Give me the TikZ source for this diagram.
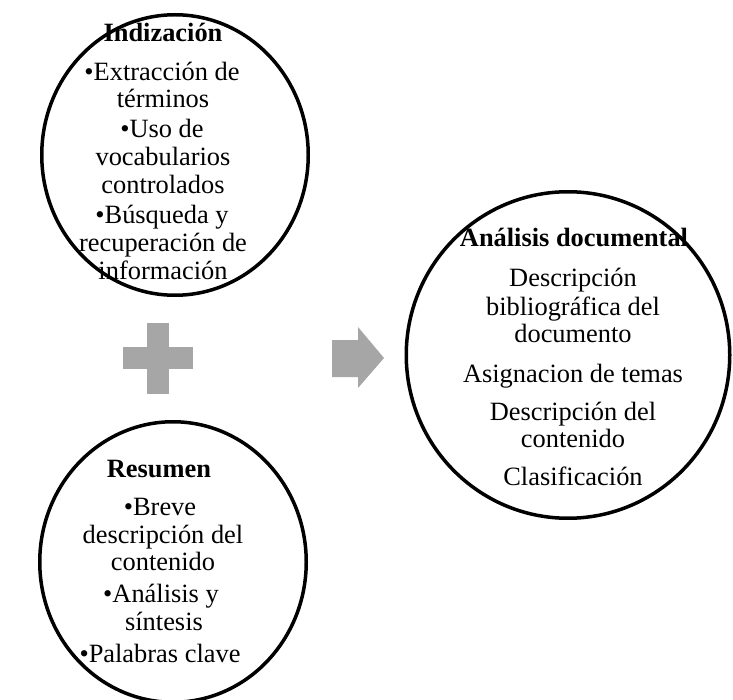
\documentclass[tikz,border=0pt]{standalone}
\usepackage{fontspec}
\setmainfont{Liberation Serif}
\usetikzlibrary{shapes.geometric}
\definecolor{shapegray}{HTML}{A6A6A6}
\tikzset{
  ring/.style={draw=black, line width=3.5pt, ellipse, inner sep=0pt, outer sep=0pt},
  txt/.style={anchor=base, inner sep=0pt, font=\fontsize{26.4}{28}\selectfont},
  head/.style={anchor=base, inner sep=0pt, font=\fontsize{26.4}{28}\selectfont\bfseries},
  blockshape/.style={fill=shapegray, draw=none}
}
\begin{document}
\begin{tikzpicture}[x=1pt,y=-1pt]
\useasboundingbox (0,0) rectangle (733,700);
\fill[white] (0,0) rectangle (733,700);
\begin{scope}
\clip (0,0) rectangle (733,700);
% circles
\node[ring, minimum width=266.5pt, minimum height=280.5pt] (c1) at (175,155) {};
\node[ring, minimum width=266.5pt, minimum height=280.5pt] (c2) at (173,562) {};
\node[ring, minimum width=323.5pt, minimum height=326.5pt] (c3) at (568,355) {};
% plus sign
\fill[blockshape] (147,323) rectangle (169,394);
\fill[blockshape] (123,347) rectangle (193,369);
% arrow
\fill[blockshape] (332,340) -- (358,340) -- (358,327) -- (384,358) -- (358,388) -- (358,377) -- (332,377) -- cycle;
\end{scope}
% texts top circle
\node[head] (t1) at (163,42) {Indización};
\node[txt] (t2) at (162,81) {•Extracción de};
\node[txt] (t3) at (163,108) {términos};
\node[txt] (t4) at (162,138) {•Uso de};
\node[txt] (t5) at (163,166) {vocabularios};
\node[txt] (t6) at (163,194) {controlados};
\node[txt] (t7) at (162,224) {•Búsqueda y};
\node[txt] (t8) at (163,252) {recuperación de};
\node[txt] (t9) at (163,280) {información};
% texts bottom circle
\node[head] (b1) at (159,477) {Resumen};
\node[txt] (b2) at (160,515) {•Breve};
\node[txt] (b3) at (163,543) {descripción del};
\node[txt] (b4) at (163,570) {contenido};
\node[txt] (b5) at (161,602) {•Análisis y};
\node[txt] (b6) at (164,630) {síntesis};
\node[txt] (b7) at (160,662) {•Palabras clave};
% texts right circle
\node[head] (r1) at (574,247) {Análisis documental};
\node[txt] (r2) at (573,287) {Descripción};
\node[txt] (r3) at (573,316) {bibliográfica del};
\node[txt] (r4) at (573,342) {documento};
\node[txt] (r5) at (573,382) {Asignacion de temas};
\node[txt] (r6) at (573,420) {Descripción del};
\node[txt] (r7) at (573,447) {contenido};
\node[txt] (r8) at (573,485) {Clasificación};
\end{tikzpicture}
\end{document}
